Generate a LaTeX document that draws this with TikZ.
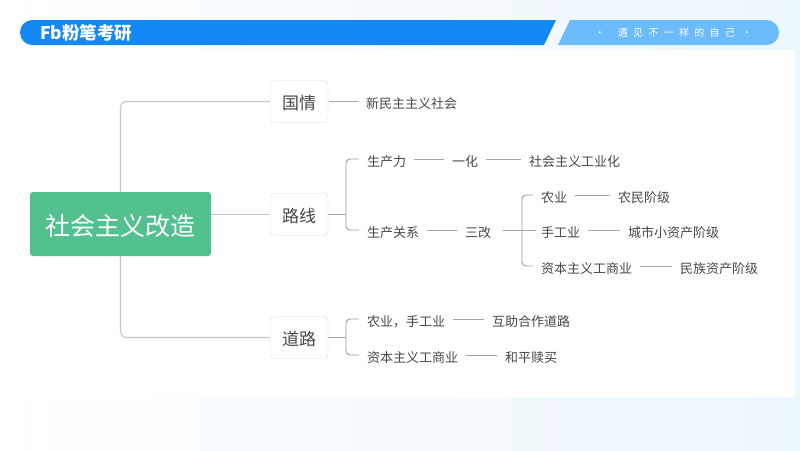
\documentclass[tikz,border=0pt]{standalone}
\usepackage{fontspec}
\setmainfont{Noto Sans CJK SC}
\usetikzlibrary{positioning}
\definecolor{barblue}{HTML}{1488F7}
\definecolor{barlight}{HTML}{6CBBFC}
\definecolor{palebg}{HTML}{EDF7FE}
\definecolor{topicgreen}{HTML}{52C08F}
\definecolor{ink}{HTML}{484848}
\tikzset{
  leaf/.style={anchor=west,inner sep=0pt,text height=14.4pt,text depth=0pt,font=\fontsize{13}{13}\selectfont,text=ink},
  branch/.style={draw=black!13,fill=white,rounded corners=4pt,minimum width=58pt,minimum height=42pt,inner sep=0pt,text height=16pt,text depth=0pt,font=\fontsize{17}{17}\selectfont,text=ink},
  trunk/.style={draw=black!22,line width=1.1pt,rounded corners=6pt},
  link/.style={draw=black!35,line width=.9pt,shorten <=8pt,shorten >=8pt},
  fork/.style={draw=black!40,line width=.9pt,rounded corners=4pt,shorten >=8pt}
}
\begin{document}
\begin{tikzpicture}[x=1pt,y=-1pt]
  \useasboundingbox (0,0) rectangle (800,450);
  \shade[left color=white,right color=palebg] (0,0) rectangle (800,450);
  \fill[white] (0,50) rectangle (795,397);
  \fill[barblue] (556,20) -- (544,45) [rounded corners=12.4pt] -- (20,45) -- (20,20) [sharp corners] -- cycle;
  \fill[barlight] (570,20) -- (558,45) [rounded corners=12.4pt] -- (779,45) -- (779,20) [sharp corners] -- cycle;
  \node[anchor=west,inner sep=0pt,text=white,font=\fontsize{17.5}{17.5}\selectfont\bfseries] (logo) at (40,33) {Fb粉笔考研};
  \node[inner sep=0pt,text=white,font=\fontsize{10}{10}\selectfont] (motto) at (673.5,33) {·\hspace{13pt}\addfontfeature{LetterSpace=53}遇见不一样的自己\hspace{7pt}·};

  \node[fill=topicgreen,rounded corners=3pt,minimum width=181pt,minimum height=64pt,inner sep=0pt,text height=23pt,text depth=0pt,text=white,font=\fontsize{25}{25}\selectfont] (topic) at (120.5,224) {社会主义改造};
  \node[branch] (guoqing) at (299,101.5) {国情};
  \node[branch] (luxian) at (299,214.5) {路线};
  \node[branch] (daolu) at (299,337.5) {道路};

  \node[leaf] (xinminzhu) at (366,101.5) {新民主主义社会};
  \node[leaf] (shengchanli) at (367,159) {生产力};
  \node[leaf] (yihua) at (452,159) {一化};
  \node[leaf] (gongyehua) at (529,159) {社会主义工业化};
  \node[leaf] (guanxi) at (367,230) {生产关系};
  \node[leaf] (sangai) at (465,230) {三改};
  \node[leaf] (nongye) at (541,195) {农业};
  \node[leaf] (nongmin) at (618,195) {农民阶级};
  \node[leaf] (shougong) at (541,230) {手工业};
  \node[leaf] (xiaozichan) at (628,230) {城市小资产阶级};
  \node[leaf] (gongshang) at (541,266) {资本主义工商业};
  \node[leaf] (minzu) at (680,266) {民族资产阶级};
  \node[leaf] (nongshou) at (367,319) {农业，手工业};
  \node[leaf] (huzhu) at (492,319) {互助合作道路};
  \node[leaf] (zibenzhuyi) at (367,355) {资本主义工商业};
  \node[leaf] (heping) at (505,355) {和平赎买};

  \coordinate (forkluxian) at (346,214.5);
  \coordinate (forkdaolu) at (346,337.5);
  \coordinate (forksangai) at (522,230);

  \draw[trunk] (topic.north) |- (guoqing.west);
  \draw[trunk] (topic.south) |- (daolu.west);
  \draw[trunk] (topic.east |- luxian.west) -- (luxian.west);

  \foreach \a/\b in {shengchanli/yihua,yihua/gongyehua,guanxi/sangai,nongye/nongmin,shougong/xiaozichan,gongshang/minzu,nongshou/huzhu,zibenzhuyi/heping}
    \draw[link] (\a.east) -- (\b.west);
  \draw[link,shorten <=1pt] (guoqing.east) -- (xinminzhu.west);
  \draw[link,shorten <=12pt,shorten >=5pt] (sangai.east) -- (shougong.west);

  \draw[link,shorten <=0pt,shorten >=0pt] (luxian.east) -- (forkluxian);
  \draw[link,shorten <=0pt,shorten >=0pt] (daolu.east) -- (forkdaolu);
  \foreach \f/\t in {forkluxian/shengchanli,forkluxian/guanxi,forkdaolu/nongshou,forkdaolu/zibenzhuyi,forksangai/nongye,forksangai/gongshang}
    \draw[fork] (\f) |- (\t.west);
\end{tikzpicture}
\end{document}
